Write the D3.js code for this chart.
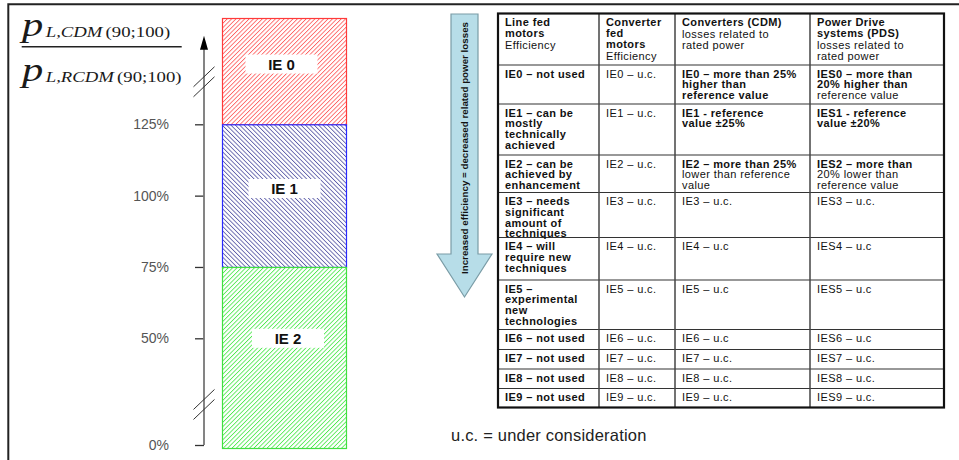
<!DOCTYPE html>
<html><head><meta charset="utf-8">
<script src="https://cdn.jsdelivr.net/npm/d3@7"></script>
<style>body{margin:0;background:#fff}svg{display:block}</style>
</head><body>
<script>
// ---------------- DATA ----------------
const tickValues = [0, 50, 75, 100, 125];
const tickLabels = ["0%", "50%", "75%", "100%", "125%"];
const bandNames = ["IE 0", "IE 1", "IE 2"];
const bandLower = [125, 75, 0];
const bandUpper = [155, 125, 75];
const bandLabelAt = [142, 102.5, 50];
const axisBreaks = [19, 137];
const axisTop = 150;

const headerBold = [["Line fed", "motors"], ["Converter", "fed", "motors"], ["Converters (CDM)"], ["Power Drive", "systems (PDS)"]];
const headerNormal = [["Efficiency"], ["Efficiency"], ["losses related to", "rated power"], ["losses related to", "rated power"]];
const colLineFed = [["IE0 – not used"], ["IE1 – can be", "mostly", "technically", "achieved"], ["IE2 – can be", "achieved by", "enhancement"],
  ["IE3 – needs", "significant", "amount of", "techniques"], ["IE4 – will", "require new", "techniques"], ["IE5 –", "experimental", "new", "technologies"],
  ["IE6 – not used"], ["IE7 – not used"], ["IE8 – not used"], ["IE9 – not used"]];
const colConverterFed = [["IE0 – u.c."], ["IE1 – u.c."], ["IE2 – u.c."], ["IE3 – u.c."], ["IE4 – u.c."], ["IE5 – u.c."], ["IE6 – u.c."], ["IE7 – u.c."], ["IE8 – u.c."], ["IE9 – u.c."]];
const colCDM = [["IE0 – more than 25%", "higher than", "reference value"], ["IE1 -  reference", "value ±25%"], ["IE2 – more than 25%", "lower than reference", "value"],
  ["IE3 – u.c."], ["IE4 – u.c"], ["IE5 – u.c"], ["IE6 – u.c"], ["IE7 – u.c."], ["IE8 – u.c."], ["IE9 – u.c."]];
const colPDS = [["IES0 – more than", "20% higher than", "reference value"], ["IES1 -  reference", "value ±20%"], ["IES2 – more than", "20% lower than", "reference value"],
  ["IES3 – u.c."], ["IES4 – u.c"], ["IES5 – u.c"], ["IES6 – u.c"], ["IES7 – u.c."], ["IES8 – u.c."], ["IES9 – u.c."]];
const arrowText = "Increased efficiency = decreased related power losses";
const footnote = "u.c. = under consideration";

// ---------------- LAYOUT / STYLE ----------------
const W = 959, H = 460;
const sans = "'Liberation Sans', Arial, sans-serif";
const serif = "'Liberation Serif', 'Times New Roman', serif";
const bandStroke = ["#ff3a3a", "#2a2aff", "#40e040"];
const bandHatch = ["#ff6060", "#5c5ca8", "#50ea50"];
const bandRot = [45, -45, 45];
const labelDx = [-3, 0, 3.5];

const svg = d3.select("body").append("svg").attr("width", W).attr("height", H);
const defs = svg.append("defs");
bandNames.forEach((n, i) => {
  const p = defs.append("pattern").attr("id", "h" + i).attr("patternUnits", "userSpaceOnUse")
    .attr("width", 3.1).attr("height", 10).attr("patternTransform", `rotate(${bandRot[i]})`);
  p.append("rect").attr("width", 3.1).attr("height", 10).attr("fill", "#fff");
  p.append("rect").attr("x", 0).attr("width", 0.85).attr("height", 10).attr("fill", bandHatch[i]);
});

// frame
svg.append("path").attr("d", `M8.3,${H} V4.3 H${W}`).attr("fill", "none").attr("stroke", "#222").attr("stroke-width", 2);

// scales
const y = d3.scaleLinear().domain([0, 50, 125, 155]).range([445, 338.3, 124.3, 18]);
const x = d3.scaleBand().domain(["CDM"]).range([222, 347]);
const axisX = 204;

// bars
const bands = bandNames.map((n, i) => ({ n, lo: bandLower[i], hi: bandUpper[i], at: bandLabelAt[i], i }));
svg.selectAll("rect.band").data(bands).join("rect").attr("class", "band")
  .attr("x", x("CDM") + 0.5).attr("width", x.bandwidth() - 1)
  .attr("y", d => y(d.hi) + 0.5).attr("height", d => y(d.lo) - y(d.hi) + (d.lo === 0 ? 3 : 0))
  .attr("fill", d => `url(#h${d.i})`).attr("stroke", d => bandStroke[d.i]).attr("stroke-width", 1.2);
const cx = x("CDM") + x.bandwidth() / 2;
svg.selectAll("rect.lbox").data(bands).join("rect").attr("class", "lbox")
  .attr("x", d => cx + labelDx[d.i] - 36).attr("y", d => y(d.at) - 9.5).attr("width", 72).attr("height", 19).attr("fill", "#fff");
svg.selectAll("text.lbl").data(bands).join("text").attr("class", "lbl")
  .attr("x", d => cx + labelDx[d.i]).attr("y", d => y(d.at) + 5.5).attr("text-anchor", "middle")
  .attr("font-family", sans).attr("font-weight", "bold").attr("font-size", 15).attr("fill", "#111").text(d => d.n);

// axis
const axis = d3.axisLeft(y).tickValues(tickValues).tickFormat((d, i) => tickLabels[i]).tickSize(9).tickPadding(26);
const ag = svg.append("g").attr("transform", `translate(${axisX},0)`).call(axis);
ag.select(".domain").remove();
ag.selectAll(".tick line").attr("stroke", "#333").attr("stroke-width", 1.3);
ag.selectAll(".tick text").attr("font-family", sans).attr("font-size", 14).attr("fill", "#555");
svg.append("line").attr("x1", axisX).attr("x2", axisX).attr("y1", y(0)).attr("y2", y(axisTop) + 10)
  .attr("stroke", "#777").attr("stroke-width", 1.8);
svg.append("path").attr("d", `M${axisX},${y(axisTop)} L${axisX - 4},${y(axisTop) + 14} L${axisX + 4},${y(axisTop) + 14} Z`).attr("fill", "#000");
axisBreaks.forEach(b => {
  const cy = y(b);
  [-5, 5].forEach(dk => {
    svg.append("line").attr("x1", axisX - 10.5).attr("y1", cy + dk + 10).attr("x2", axisX + 10.5).attr("y2", cy + dk - 10)
      .attr("stroke", "#333").attr("stroke-width", 1);
  });
});

// fraction label
const frac = svg.append("g").attr("transform", "translate(22,0) scale(1.25,1)").attr("fill", "#1a1a1a").attr("font-family", serif);
function fracText(yb, sub) {
  const t = frac.append("text").attr("x", 0).attr("y", yb);
  t.append("tspan").attr("font-style", "italic").attr("font-size", 34).text("p");
  t.append("tspan").attr("font-style", "italic").attr("font-size", 15).attr("dx", 2).attr("dy", 1.5).text(sub);
  t.append("tspan").attr("font-size", 15).attr("dx", 2.5).text("(90;100)");
}
fracText(36, "L,CDM");
fracText(81, "L,RCDM");
svg.append("line").attr("x1", 21.7).attr("x2", 181.7).attr("y1", 46.7).attr("y2", 46.7).attr("stroke", "#222").attr("stroke-width", 1.6);

// big arrow
svg.append("path").attr("d", "M451,14 H478 V254 H492 L464.5,297 L437,254 H451 Z")
  .attr("fill", "#b7dde8").attr("stroke", "#7a9ca6").attr("stroke-width", 1.2);
svg.append("text").attr("transform", "translate(468,148) rotate(-90)").attr("text-anchor", "middle")
  .attr("font-family", sans).attr("font-size", 9.5).attr("font-weight", "bold").attr("fill", "#111")
  .attr("textLength", 252).attr("lengthAdjust", "spacingAndGlyphs").text(arrowText);

// table
const colX = [498, 599, 675, 810, 944];
const rowY = [13.5, 65, 104, 155, 192.5, 237.5, 280, 329.5, 349.5, 369, 388.5, 407.5];
const tg = svg.append("g").attr("font-family", sans).attr("font-size", 11).attr("fill", "#111").attr("letter-spacing", 0.4);
for (let r = 1; r < rowY.length - 1; r++)
  tg.append("line").attr("x1", colX[0]).attr("x2", colX[4]).attr("y1", rowY[r]).attr("y2", rowY[r]).attr("stroke", "#333").attr("stroke-width", 1.2);
for (let c = 1; c < colX.length - 1; c++)
  tg.append("line").attr("x1", colX[c]).attr("x2", colX[c]).attr("y1", rowY[0]).attr("y2", rowY[rowY.length - 1]).attr("stroke", "#444").attr("stroke-width", 1.5);
tg.append("rect").attr("x", colX[0]).attr("y", rowY[0]).attr("width", colX[4] - colX[0]).attr("height", rowY[rowY.length - 1] - rowY[0])
  .attr("fill", "none").attr("stroke", "#111").attr("stroke-width", 2.2);

const lh = 10.8;
headerBold.forEach((lines, c) => {
  let yb = rowY[0] + 12.5;
  lines.forEach(s => { tg.append("text").attr("x", colX[c] + 7).attr("y", yb).attr("font-weight", "bold").text(s); yb += lh; });
  yb += 1.5;
  headerNormal[c].forEach(s => { tg.append("text").attr("x", colX[c] + 7).attr("y", yb).text(s); yb += lh; });
});
const cols = [colLineFed, colConverterFed, colCDM, colPDS];
const boldCount = [() => 99, () => 0, r => [3, 2, 1][r] || 0, r => [2, 2, 1][r] || 0];
cols.forEach((col, c) => {
  col.forEach((lines, r) => {
    const nb = boldCount[c](r);
    lines.forEach((s, k) => {
      tg.append("text").attr("x", colX[c] + 7).attr("y", rowY[r + 1] + 12.5 + k * lh)
        .attr("font-weight", k < nb ? "bold" : "normal").text(s);
    });
  });
});

// footnote
svg.append("text").attr("x", 451).attr("y", 441).attr("font-family", sans).attr("font-size", 16.5)
  .attr("letter-spacing", 0.2).attr("fill", "#222").text(footnote);
</script>
</body></html>
